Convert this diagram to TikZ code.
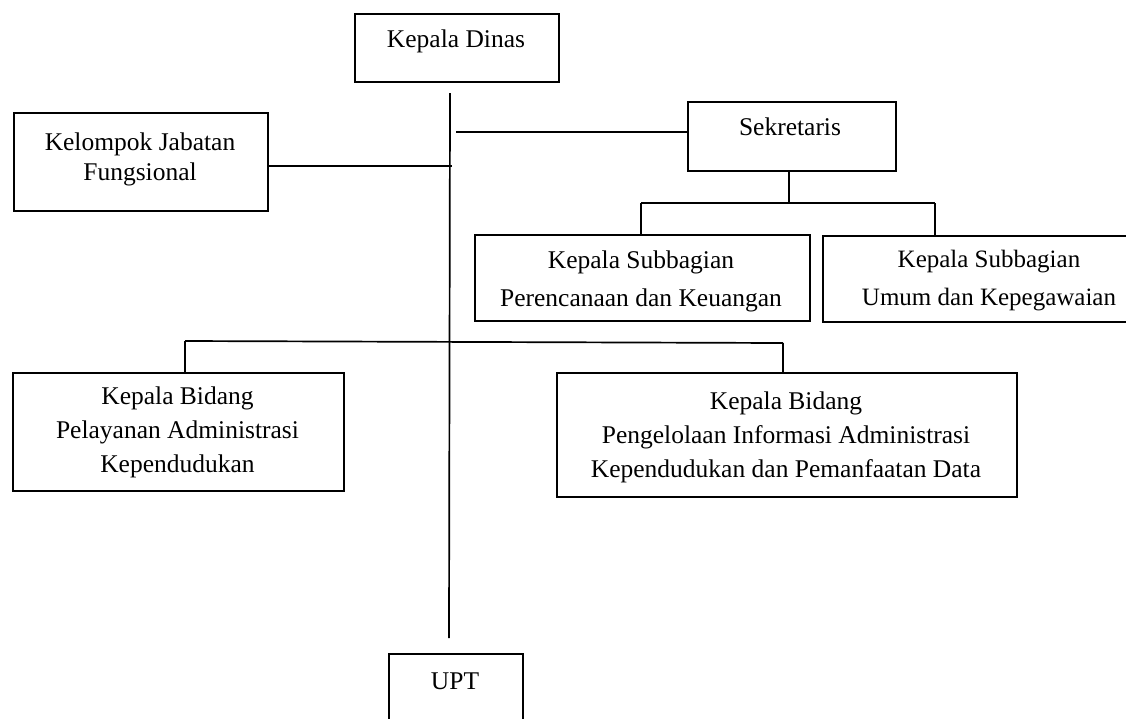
\documentclass[tikz,border=0pt]{standalone}
\usepackage{fontspec}
\setmainfont{Liberation Serif}
\tikzset{
  box/.style={draw, line width=2.2pt, inner sep=0pt, anchor=north west},
  txt/.style={inner sep=0pt, align=center, font=\fontsize{25.5}{30}\selectfont},
  conn/.style={line width=1.7pt},
}
\begin{document}
\begin{tikzpicture}[x=1pt,y=-1pt]
\useasboundingbox (0,0) rectangle (1126,718);
\clip (0,0) rectangle (1126,718);
\fill[white] (0,0) rectangle (1126,718);
% boxes
\node[box, minimum width=204pt, minimum height=68pt] (dinas) at (354,13) {};
\node[box, minimum width=254pt, minimum height=98pt] (kjf) at (13,112) {};
\node[box, minimum width=208pt, minimum height=69pt] (sek) at (687,101) {};
\node[box, minimum width=335pt, minimum height=86pt] (sub1) at (474,234) {};
\node[box, minimum width=350pt, minimum height=86pt] (sub2) at (822,235) {};
\node[box, minimum width=331pt, minimum height=118pt] (bid1) at (12,372) {};
\node[box, minimum width=460pt, minimum height=124pt] (bid2) at (556,372) {};
\node[box, minimum width=134pt, minimum height=90pt] (upt) at (388,653) {};
% texts
\node[txt, anchor=base] (dinasT) at (456,47) {Kepala Dinas};
\node[txt] (kjfT) at (140,159) {Kelompok Jabatan\\Fungsional};
\node[txt, anchor=base] (sekT) at (790,135) {Sekretaris};
\node[txt, font=\fontsize{25.5}{38}\selectfont] (sub1T) at (641,281) {Kepala Subbagian\\Perencanaan dan Keuangan};
\node[txt, font=\fontsize{25}{38}\selectfont] (sub2T) at (989,281) {Kepala Subbagian\\Umum dan Kepegawaian};
\node[txt, font=\fontsize{25.5}{34}\selectfont] (bid1T) at (177.5,432) {Kepala Bidang\\Pelayanan Administrasi\\Kependudukan};
\node[txt, font=\fontsize{25.5}{34}\selectfont] (bid2T) at (786,437) {Kepala Bidang\\Pengelolaan Informasi Administrasi\\Kependudukan dan Pemanfaatan Data};
\node[txt, anchor=base] (uptT) at (455,689) {UPT};
% connector points
\coordinate (top) at (450,93);
\coordinate (bot) at (449,638);
\coordinate (j1) at (452,166);
\coordinate (s1) at (456,132);
\coordinate (s2) at (789,203);
\coordinate (sL) at (641,203);
\coordinate (sR) at (935,203);
\coordinate (bL) at (185,341);
\coordinate (bR) at (783,343);
% connectors
\draw[conn] (top) -- (bot);
\draw[conn] (kjf.east |- j1) -- (j1);
\draw[conn] (s1) -- (s1 -| sek.west);
\draw[conn] (sek.south -| s2) -- (s2);
\draw[conn] (sL) -- (sR);
\draw[conn] (sL) -- (sL |- sub1.north);
\draw[conn] (sR) -- (sR |- sub2.north);
\draw[conn] (bL) -- (bR);
\draw[conn] (bL) -- (bL |- bid1.north);
\draw[conn] (bR) -- (bR |- bid2.north);
\end{tikzpicture}
\end{document}
